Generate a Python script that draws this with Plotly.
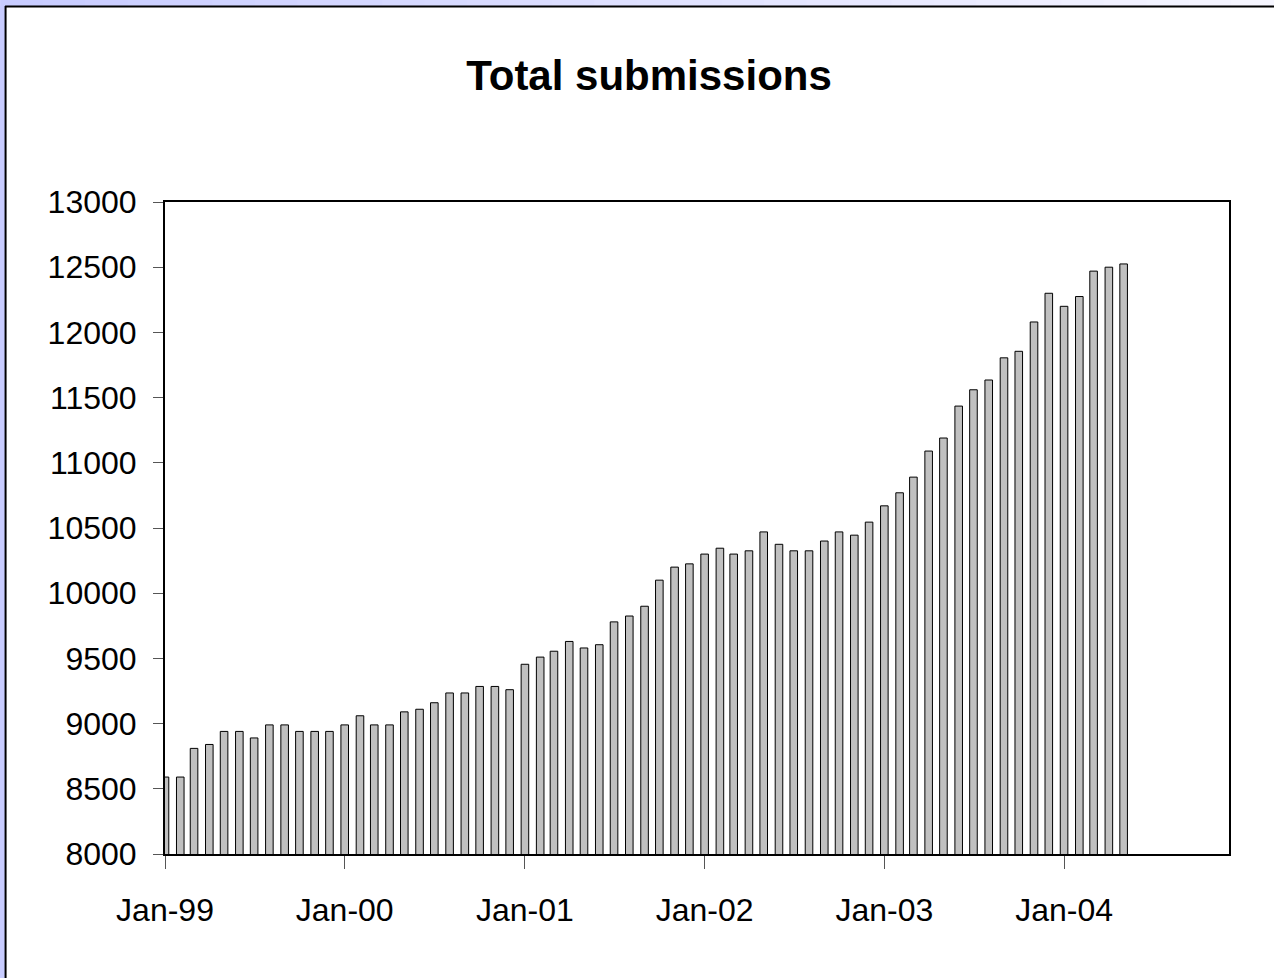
import plotly.graph_objects as go
import pandas as pd

# Monthly totals, Jan-1999 .. May-2004
months = pd.date_range("1999-01-01", periods=65, freq="MS")
submissions = [
    8590, 8590, 8810, 8840, 8940, 8940, 8890, 8990, 8990, 8940, 8940, 8940,   # 1999
    8990, 9060, 8990, 8990, 9090, 9110, 9160, 9235, 9235, 9285, 9285, 9260,   # 2000
    9455, 9510, 9555, 9630, 9580, 9605, 9780, 9825, 9900, 10100, 10200, 10225,  # 2001
    10300, 10345, 10300, 10325, 10470, 10375, 10325, 10325, 10400, 10470, 10445, 10545,  # 2002
    10670, 10770, 10890, 11090, 11190, 11435, 11560, 11635, 11805, 11855, 12080, 12300,  # 2003
    12200, 12275, 12470, 12500, 12525,  # 2004
]
tick_dates = ["1999-01-01", "2000-01-01", "2001-01-01", "2002-01-01", "2003-01-01", "2004-01-01"]
tick_text = ["Jan-99", "Jan-00", "Jan-01", "Jan-02", "Jan-03", "Jan-04"]
y_ticks = list(range(8000, 13001, 500))
y_text = [str(v) for v in y_ticks]

W, H = 1274, 978
L, R, T, B = 165, 1229.5, 202, 854

fig = go.Figure()
fig.add_trace(go.Bar(
    x=months, y=submissions,
    marker=dict(color="#c0c0c0", line=dict(color="#000000", width=1)),
    hoverinfo="x+y",
))

def px_x(p):
    return (p - L) / (R - L)

def px_y(p):
    return (B - p) / (B - T)

shapes = []
# gradient top band
n = 30
for i in range(n):
    x0 = i * W / n
    x1 = (i + 1) * W / n
    t = i / (n - 1)
    r = int(0xc8 + (0xf6 - 0xc8) * t)
    g = int(0xcc + (0xf6 - 0xcc) * t)
    col = f"rgb({r},{g},255)"
    shapes.append(dict(type="rect", xref="paper", yref="paper",
                       x0=px_x(x0), x1=px_x(x1 + 1), y0=px_y(6), y1=px_y(-2),
                       fillcolor=col, line=dict(width=0), layer="below"))
# left band
shapes.append(dict(type="rect", xref="paper", yref="paper",
                   x0=px_x(-2), x1=px_x(5), y0=px_y(H + 2), y1=px_y(6),
                   fillcolor="#c8ccff", line=dict(width=0), layer="below"))
# dark frame lines
shapes.append(dict(type="line", xref="paper", yref="paper",
                   x0=px_x(5), x1=px_x(W + 2), y0=px_y(6.5), y1=px_y(6.5),
                   line=dict(color="#000000", width=2), layer="below"))
shapes.append(dict(type="line", xref="paper", yref="paper",
                   x0=px_x(5.5), x1=px_x(5.5), y0=px_y(6), y1=px_y(H + 2),
                   line=dict(color="#000000", width=2), layer="below"))

label_font = dict(family="Liberation Sans, Arial, sans-serif", size=32, color="#000000")

fig.update_layout(
    width=W, height=H,
    margin=dict(l=L, r=W - R, t=T, b=H - B, pad=0),
    paper_bgcolor="#ffffff",
    plot_bgcolor="#ffffff",
    showlegend=False,
    bargap=0.45,
    title=dict(text="<b>Total submissions</b>", x=649 / W, xanchor="center",
               y=1 - 75 / H, yanchor="middle",
               font=dict(family="Liberation Sans, Arial, sans-serif", size=42, color="#000000")),
    xaxis=dict(
        type="date",
        range=["1999-01-01", "2004-12-01"],
        tickvals=tick_dates, ticktext=tick_text,
        ticks="outside", ticklen=13, tickwidth=1, tickcolor="#555555",
        showline=True, linecolor="#000000", linewidth=2, mirror=True,
        showgrid=False, zeroline=False,
        tickfont=label_font,
        ticklabelstandoff=14,
    ),
    yaxis=dict(
        range=[8000, 13000],
        tickvals=y_ticks, ticktext=y_text,
        ticks="outside", ticklen=10, tickwidth=1, tickcolor="#555555",
        showline=True, linecolor="#000000", linewidth=2, mirror=True,
        showgrid=False, zeroline=False,
        tickfont=label_font,
        ticklabelstandoff=10,
    ),
    shapes=shapes,
)

fig.write_html(
    "out.html",
    config={"displayModeBar": False},
    post_script="document.body.style.margin='0';document.body.style.overflow='hidden';",
)
